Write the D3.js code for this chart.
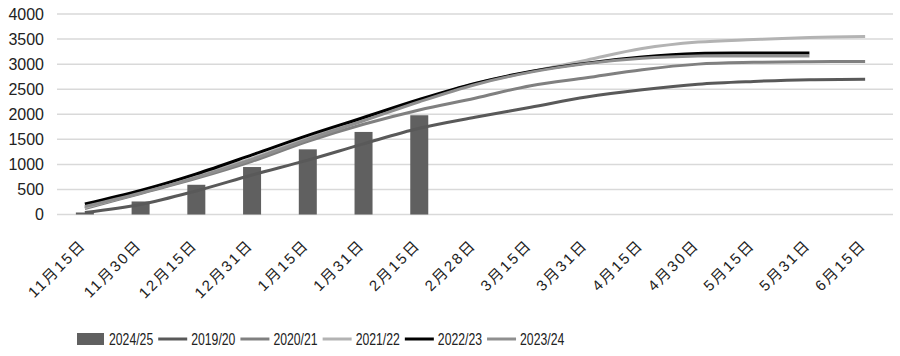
<!DOCTYPE html>
<html><head><meta charset="utf-8">
<script src="https://cdn.jsdelivr.net/npm/d3@7"></script>
<style>
html,body{margin:0;padding:0;background:#fff;}
svg{display:block;}
</style></head>
<body><svg id="c" width="900" height="356"></svg>
<script>
const categories = ["11月15日","11月30日","12月15日","12月31日","1月15日","1月31日","2月15日","2月28日","3月15日","3月31日","4月15日","4月30日","5月15日","5月31日","6月15日"];
const yTicks = [0,500,1000,1500,2000,2500,3000,3500,4000];
const bars2425 = [40,260,593,947,1300,1647,1980,null,null,null,null,null,null,null,null];
const s1920 = [40,200,470,787,1085,1410,1720,1940,2140,2345,2490,2600,2655,2690,2700];
const s2021 = [120,420,720,1060,1460,1800,2085,2320,2570,2730,2890,3000,3035,3048,3052];
const s2122 = [140,440,760,1120,1520,1890,2270,2610,2850,3080,3310,3440,3490,3530,3550];
const s2223 = [210,480,810,1190,1580,1936,2295,2615,2855,3020,3140,3211,3220,3222,null];
const s2324 = [160,430,740,1100,1500,1870,2250,2590,2840,3010,3115,3160,3162,3162,null];
const seriesNames = ["2019/20","2020/21","2021/22","2022/23","2023/24"];
const seriesColors = ["#595959","#808080","#b3b3b3","#000000","#8f8f8f"];
const barName = "2024/25";
const barColor = "#606060";

const svg = d3.select("#c");
const mLeft = 57, mRight = 893, mTop = 14, mBottom = 214.5;
const x = d3.scaleBand().domain(categories).range([mLeft, mRight]);
const y = d3.scaleLinear().domain([0, 4000]).range([mBottom, mTop]);

// gridlines
svg.append("g").selectAll("line").data(yTicks).join("line")
  .attr("x1", mLeft).attr("x2", mRight)
  .attr("y1", d => y(d)).attr("y2", d => y(d))
  .attr("stroke", "#d9d9d9").attr("stroke-width", 1.5);

// y axis labels
const yAxis = d3.axisLeft(y).tickValues(yTicks).tickFormat(d3.format("d")).tickSize(0).tickPadding(0);
const gy = svg.append("g").attr("transform", `translate(44,0)`).call(yAxis);
gy.select(".domain").remove();
gy.selectAll("text").attr("font-family", "'Liberation Sans', Arial, sans-serif")
  .attr("font-size", 16).attr("fill", "#222");

// x axis labels
const xAxis = d3.axisBottom(x).tickSize(0).tickPadding(0);
const gx = svg.append("g").attr("transform", `translate(2,246)`).call(xAxis);
gx.select(".domain").remove();
gx.selectAll("text")
  .attr("font-family", "'Liberation Sans', 'Noto Sans CJK SC', sans-serif")
  .attr("font-size", 15).attr("fill", "#222")
  .attr("letter-spacing", "2px")
  .attr("dy", 0).attr("y", 0)
  .attr("text-anchor", "end")
  .attr("transform", "rotate(-45)");

// bars
const bw = 18;
svg.append("g").selectAll("rect").data(categories.map((c,i)=>({c, v: bars2425[i]})).filter(d => d.v != null))
  .join("rect")
  .attr("x", d => x(d.c) + x.bandwidth()/2 - bw/2)
  .attr("width", bw)
  .attr("y", d => y(d.v))
  .attr("height", d => y(0) - y(d.v))
  .attr("fill", barColor);

// lines
const allSeries = [s1920, s2021, s2122, s2223, s2324];
const line = d3.line()
  .defined(d => d.v != null)
  .x(d => x(d.c) + x.bandwidth()/2)
  .y(d => y(d.v))
  .curve(d3.curveCatmullRom.alpha(0.5));
[0,1,2,3,4].forEach(i => {
  const data = categories.map((c,j)=>({c, v: allSeries[i][j]}));
  svg.append("path").datum(data)
    .attr("fill", "none")
    .attr("stroke", seriesColors[i])
    .attr("stroke-width", 3)
    .attr("d", line);
});

// legend
const lg = svg.append("g").attr("font-family", "'Liberation Sans', Arial, sans-serif")
  .attr("font-size", 17).attr("fill", "#222");
let lx = 77;
const ly = 339;
const sx = 0.72;
const items = [{name: barName, color: barColor, bar: true}].concat(seriesNames.map((n,i)=>({name:n, color: seriesColors[i], bar:false})));
items.forEach(it => {
  if (it.bar) {
    lg.append("rect").attr("x", lx).attr("y", ly-6).attr("width", 27).attr("height", 12).attr("fill", it.color);
    lx += 32;
  } else {
    lg.append("line").attr("x1", lx).attr("x2", lx+29).attr("y1", ly).attr("y2", ly)
      .attr("stroke", it.color).attr("stroke-width", 3);
    lx += 33;
  }
  const tg = lg.append("g").attr("transform", `translate(${lx},${ly}) scale(${sx},1)`);
  const t = tg.append("text").attr("x", 0).attr("y", 0).attr("dy", "0.36em").text(it.name);
  const w = t.node().getComputedTextLength() * sx;
  lx += w + 5;
});
</script>
</body></html>
